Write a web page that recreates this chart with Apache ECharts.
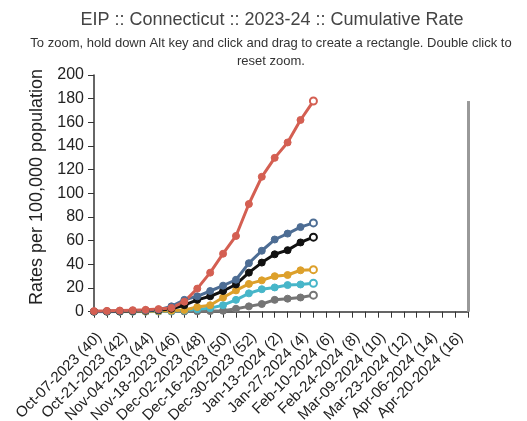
<!DOCTYPE html>
<html>
<head>
<meta charset="utf-8">
<script src="https://cdn.jsdelivr.net/npm/echarts@6/dist/echarts.min.js"></script>
<style>
html,body{margin:0;padding:0;background:#fff;}
#chart{width:527px;height:421px;}
</style>
</head>
<body>
<div id="chart"></div>
<script>
const weeks = [
  "Oct-07-2023 (40)","Oct-14-2023 (41)","Oct-21-2023 (42)","Oct-28-2023 (43)",
  "Nov-04-2023 (44)","Nov-11-2023 (45)","Nov-18-2023 (46)","Nov-25-2023 (47)",
  "Dec-02-2023 (48)","Dec-09-2023 (49)","Dec-16-2023 (50)","Dec-23-2023 (51)",
  "Dec-30-2023 (52)","Jan-06-2024 (1)","Jan-13-2024 (2)","Jan-20-2024 (3)",
  "Jan-27-2024 (4)","Feb-03-2024 (5)","Feb-10-2024 (6)","Feb-17-2024 (7)",
  "Feb-24-2024 (8)","Mar-02-2024 (9)","Mar-09-2024 (10)","Mar-16-2024 (11)",
  "Mar-23-2024 (12)","Mar-30-2024 (13)","Apr-06-2024 (14)","Apr-13-2024 (15)",
  "Apr-20-2024 (16)","Apr-27-2024 (17)"
];
const redSeries    = [0.5,0.7,1.0,1.3,1.6,2.2,3.2,8.5,19.5,33,49,64,91,114,130,143,162,178];
const blueSeries   = [0.2,0.3,0.5,0.7,1.0,1.6,4.5,10,13,17.5,22,27,41,51.5,61,66,71.5,75];
const blackSeries  = [0.1,0.2,0.3,0.5,0.8,1.2,2.5,5.5,10,13,17.5,23,33,41.5,48.5,52,58.5,63];
const orangeSeries = [0.1,0.1,0.2,0.3,0.4,0.6,0.9,1.5,4,5.5,12,18,23.5,26.5,30,31,35,35.5];
const cyanSeries   = [0,0,0.1,0.1,0.2,0.3,0.5,1.0,2.0,3.0,5.5,10,15.5,19,20.5,22.5,23,24];
const graySeries   = [0,0,0,0,0,0.1,0.1,0.2,0.3,0.5,0.8,2.5,4.5,6.5,10,11,12,14];
const yTicks = { min: 0, max: 200, interval: 20 };

const titleText = "EIP :: Connecticut :: 2023-24 :: Cumulative Rate";
const subText = "To zoom, hold down Alt key and click and drag to create a rectangle. Double click to\nreset zoom.";
const yName = "Rates per 100,000 population";

function mkSeries(name, values, color) {
  const last = values.length - 1;
  return {
    name: name,
    type: 'line',
    data: values.map((v, i) => i === last
      ? { value: v, itemStyle: { color: '#fff', borderColor: color, borderWidth: 2 } }
      : v),
    symbol: 'circle',
    symbolSize: 7,
    showAllSymbol: true,
    lineStyle: { color: color, width: 3 },
    itemStyle: { color: color, borderColor: color, borderWidth: 1 },
    emphasis: { disabled: true },
    z: 2
  };
}

const peak = Math.max(...redSeries);
const series = [
  mkSeries('gray', graySeries, '#757575'),
  mkSeries('cyan', cyanSeries, '#47b6c9'),
  mkSeries('orange', orangeSeries, '#dda02b'),
  mkSeries('black', blackSeries, '#111111'),
  mkSeries('blue', blueSeries, '#4d6d94'),
  mkSeries('red', redSeries, '#d45f52')
];
series[0].markLine = {
  silent: true,
  symbol: 'none',
  label: { show: false },
  lineStyle: { color: '#999', width: 3, type: 'solid' },
  data: [[{ coord: [weeks[weeks.length - 1], 0] }, { coord: [weeks[weeks.length - 1], peak] }]]
};

const chart = echarts.init(document.getElementById('chart'), null, { renderer: 'canvas' });
chart.setOption({
  animation: false,
  backgroundColor: '#fff',
  title: [
    { text: titleText, left: 267, top: 6, textAlign: 'center',
      textStyle: { fontFamily: 'Liberation Sans, Arial', fontSize: 18, fontWeight: 'normal', color: '#444' } },
    { text: subText, left: 266, top: 29, textAlign: 'center',
      textStyle: { fontFamily: 'Liberation Sans, Arial', fontSize: 13, fontWeight: 'normal', color: '#333', lineHeight: 18 } }
  ],
  grid: { left: 94, right: 58.7, top: 75, bottom: 109.3, containLabel: false, outerBoundsMode: 'none' },
  xAxis: {
    type: 'category',
    data: weeks,
    boundaryGap: false,
    axisLine: { lineStyle: { color: '#333', width: 1.5 } },
    axisTick: { show: true, interval: 0, length: 6, lineStyle: { color: '#333' } },
    axisLabel: { interval: 1, rotate: 45, margin: 18, verticalAlign: 'top', fontSize: 15, color: '#222', fontFamily: 'Liberation Sans, Arial' },
    splitLine: { show: false }
  },
  yAxis: {
    type: 'value',
    min: yTicks.min, max: yTicks.max, interval: yTicks.interval,
    axisLine: { show: true, lineStyle: { color: '#333', width: 1.5 } },
    axisTick: { show: true, length: 6, lineStyle: { color: '#333' } },
    axisLabel: { fontSize: 16, color: '#222', margin: 10, fontFamily: 'Liberation Sans, Arial' },
    splitLine: { show: false }
  },
  graphic: [{
    type: 'text',
    x: 37, y: 187, rotation: Math.PI / 2,
    style: { text: yName, fontSize: 18, fill: '#222', fontFamily: 'Liberation Sans, Arial',
             align: 'center', verticalAlign: 'middle' }
  }],
  series: series
});
</script>
</body>
</html>
